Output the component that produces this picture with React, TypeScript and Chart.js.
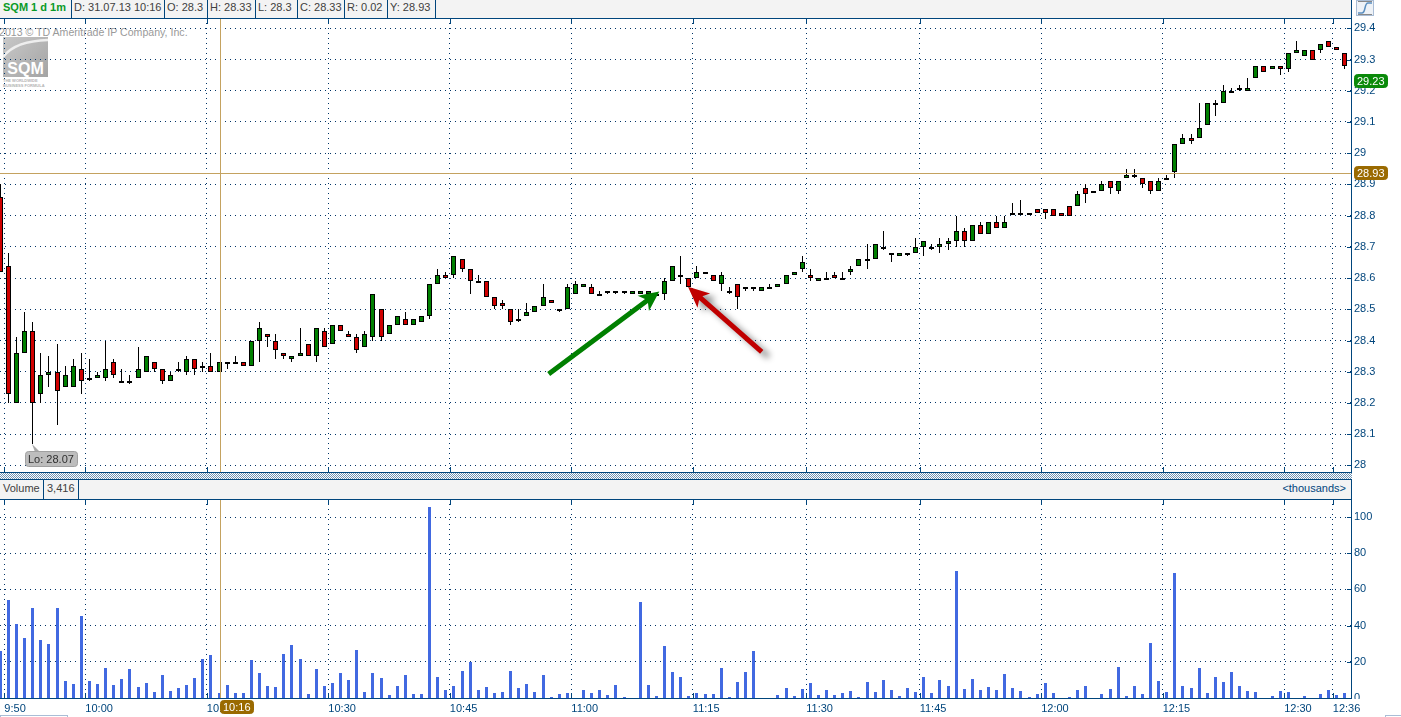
import React, { useEffect, useRef } from "react";
import { Chart, registerables } from "chart.js";

Chart.register(...registerables);

const opens = [28.86,28.64,28.20,28.36,28.43,28.23,28.29,28.30,28.25,28.25,28.31,28.28,28.28,28.28,28.33,28.27,28.27,28.28,28.30,28.33,28.31,28.27,28.31,28.30,28.34,28.32,28.32,28.30,28.33,28.33,28.33,28.32,28.40,28.42,28.40,28.36,28.34,28.35,28.39,28.35,28.43,28.39,28.45,28.42,28.41,28.38,28.41,28.50,28.42,28.45,28.47,28.45,28.46,28.48,28.58,28.61,28.61,28.66,28.63,28.59,28.59,28.54,28.52,28.50,28.47,28.48,28.49,28.51,28.53,28.50,28.50,28.55,28.57,28.57,28.55,28.56,28.56,28.56,28.55,28.55,28.55,28.55,28.55,28.59,28.61,28.60,28.60,28.62,28.61,28.58,28.56,28.58,28.57,28.57,28.56,28.57,28.57,28.58,28.61,28.63,28.61,28.59,28.60,28.61,28.60,28.62,28.64,28.66,28.66,28.70,28.68,28.67,28.68,28.68,28.70,28.70,28.70,28.71,28.72,28.75,28.72,28.77,28.74,28.78,28.76,28.81,28.81,28.81,28.82,28.82,28.82,28.81,28.83,28.83,28.89,28.88,28.88,28.91,28.88,28.92,28.93,28.92,28.91,28.88,28.92,28.94,29.03,29.05,29.05,29.09,29.16,29.16,29.20,29.21,29.20,29.24,29.28,29.27,29.28,29.27,29.32,29.31,29.33,29.33,29.36,29.34,29.32];
const highs = [28.90,28.68,28.41,28.49,28.46,28.36,28.35,28.39,28.32,28.34,28.36,28.34,28.30,28.40,28.34,28.31,28.29,28.38,28.35,28.33,28.31,28.30,28.33,28.35,28.34,28.33,28.36,28.33,28.33,28.35,28.33,28.40,28.46,28.42,28.42,28.36,28.35,28.44,28.39,28.44,28.44,28.45,28.45,28.43,28.42,28.43,28.55,28.50,28.45,28.48,28.49,28.47,28.48,28.58,28.63,28.62,28.67,28.66,28.63,28.61,28.59,28.54,28.53,28.50,28.50,28.52,28.51,28.58,28.53,28.50,28.58,28.59,28.58,28.58,28.56,28.56,28.56,28.56,28.56,28.56,28.56,28.55,28.60,28.64,28.67,28.60,28.64,28.62,28.61,28.62,28.57,28.58,28.57,28.57,28.57,28.58,28.58,28.61,28.62,28.67,28.63,28.60,28.62,28.62,28.62,28.64,28.66,28.71,28.71,28.75,28.68,28.68,28.68,28.73,28.72,28.71,28.73,28.73,28.80,28.76,28.77,28.78,28.78,28.80,28.80,28.84,28.85,28.81,28.82,28.82,28.82,28.81,28.83,28.88,28.90,28.88,28.91,28.91,28.91,28.95,28.95,28.92,28.91,28.92,28.93,29.03,29.06,29.06,29.16,29.16,29.17,29.22,29.21,29.22,29.24,29.28,29.28,29.28,29.28,29.32,29.36,29.33,29.33,29.35,29.36,29.34,29.32];
const lows = [28.62,28.20,28.20,28.36,28.07,28.20,28.25,28.13,28.25,28.25,28.23,28.27,28.28,28.27,28.28,28.27,28.26,28.28,28.30,28.30,28.26,28.27,28.30,28.29,28.29,28.30,28.30,28.30,28.31,28.33,28.32,28.32,28.33,28.38,28.34,28.34,28.33,28.35,28.35,28.33,28.38,28.39,28.43,28.41,28.36,28.38,28.40,28.40,28.42,28.45,28.45,28.45,28.46,28.47,28.58,28.60,28.60,28.62,28.55,28.59,28.54,28.50,28.50,28.45,28.46,28.48,28.49,28.51,28.52,28.49,28.50,28.55,28.57,28.55,28.55,28.55,28.55,28.55,28.55,28.55,28.55,28.55,28.53,28.59,28.58,28.57,28.60,28.62,28.59,28.56,28.55,28.50,28.56,28.56,28.56,28.57,28.57,28.58,28.61,28.62,28.59,28.59,28.60,28.60,28.60,28.61,28.64,28.63,28.66,28.69,28.65,28.67,28.67,28.68,28.67,28.69,28.68,28.69,28.70,28.70,28.72,28.74,28.74,28.76,28.76,28.81,28.81,28.81,28.81,28.79,28.80,28.80,28.80,28.83,28.84,28.88,28.88,28.87,28.87,28.92,28.92,28.89,28.87,28.88,28.92,28.92,29.03,29.03,29.05,29.09,29.12,29.16,29.20,29.20,29.20,29.24,29.26,29.27,29.25,29.26,29.32,29.31,29.30,29.32,29.34,29.33,29.27];
const closes = [28.62,28.23,28.36,28.43,28.20,28.29,28.30,28.24,28.29,28.32,28.27,28.28,28.29,28.31,28.29,28.27,28.27,28.31,28.35,28.31,28.27,28.29,28.31,28.34,28.31,28.32,28.30,28.33,28.33,28.33,28.32,28.40,28.44,28.41,28.37,28.35,28.35,28.36,28.35,28.44,28.38,28.45,28.43,28.41,28.37,28.42,28.55,28.41,28.45,28.48,28.45,28.47,28.48,28.58,28.61,28.60,28.67,28.63,28.59,28.59,28.54,28.51,28.51,28.46,28.47,28.49,28.51,28.54,28.52,28.50,28.57,28.58,28.58,28.55,28.55,28.56,28.56,28.56,28.56,28.56,28.56,28.55,28.59,28.64,28.61,28.57,28.62,28.62,28.59,28.61,28.56,28.54,28.57,28.57,28.57,28.57,28.58,28.61,28.62,28.65,28.60,28.60,28.60,28.60,28.60,28.63,28.66,28.66,28.71,28.70,28.68,28.68,28.68,28.70,28.72,28.70,28.71,28.72,28.75,28.72,28.77,28.74,28.78,28.76,28.78,28.81,28.81,28.81,28.81,28.81,28.80,28.80,28.80,28.87,28.87,28.88,28.90,28.89,28.91,28.93,28.93,28.90,28.88,28.91,28.92,29.03,29.05,29.04,29.08,29.16,29.16,29.20,29.20,29.21,29.21,29.28,29.26,29.28,29.27,29.32,29.33,29.33,29.30,29.35,29.34,29.33,29.28];
const volumes = [26,54.3,41,33.3,50,32,30,50,9.6,8,45.5,9.6,8,16.8,7.4,10.7,16.2,6.3,8.5,3.5,12.9,4,5.7,7.4,11.2,21.7,24,3,7.4,3,3,21.2,14,6.8,6.3,24.5,29.5,21.7,2.4,16.2,6.8,8.5,14,10,26.7,3.5,14,11.2,1.8,6.8,12.9,2.4,2.4,105.7,11.8,4.6,6.8,15,20,4.4,6.1,2.8,3.3,15,5.6,7.8,3.3,12.8,0.6,2.2,2.8,0,4.4,2.8,4.4,1.7,7.2,0.6,0,53.3,7.2,1.1,28.9,14.4,11.7,1.1,2.8,2.2,2.2,16.7,0.6,8.9,14.4,26,0,0,1.7,5.6,1.1,5,8.3,1.7,4.4,1.7,2.8,3.9,0.6,8.9,3.3,10,4.4,1.1,5.6,3.3,11.7,3,10,6.8,70,5.2,10.7,4.6,6.3,4.6,13.4,5.7,4,0.7,2.4,8.5,3,0,0.7,4.6,6.8,0,2.4,5.2,17.3,1.3,6.8,2.4,30.6,9.6,3.5,69.2,6.8,5.7,16.8,3,11.8,9,14.5,6.8,4,3.5,0,1.3,4,3.5,0,1.3,0,2.4,4.6,1.8,3];

const timeTickIndexes = [1, 11, 26, 41, 56, 71, 86, 100, 114, 129, 144, 159, 165];
const timeLabels = ["9:50","10:00","10:15","10:30","10:45","11:00","11:15","11:30","11:45","12:00","12:15","12:30","12:36"];
const priceTicks = [28,28.1,28.2,28.3,28.4,28.5,28.6,28.7,28.8,28.9,29,29.1,29.2,29.3,29.4];
const volumeTicks = [0,20,40,60,80,100];
const headerCells = [
  { text: "D: 31.07.13 10:16", end: 164 },
  { text: "O: 28.3", end: 207 },
  { text: "H: 28.33", end: 255 },
  { text: "L: 28.3", end: 297 },
  { text: "C: 28.33", end: 344 },
  { text: "R: 0.02", end: 387 },
  { text: "Y: 28.93", end: 435 },
];

const cursorIndex = 27.1;
const cursorPrice = 28.935;
const lastPrice = 29.23;
const lowIndex = 4;
const lowPrice = 28.07;
const greenArrow = { from: [67.7, 28.293], to: [81.36, 28.557] };
const redArrow = { from: [94.0, 28.364], to: [84.9, 28.572] };

const BLUE = "#00457c";
const DOT = "#003366";
const TAN = "#c4a260";
const BROWN = "#9a6a00";
const FONT = "'Liberation Sans', Arial, sans-serif";
const xMin = -0.037;
const xMax = 166.75;
const gridValues = timeTickIndexes.map((i) => i - 0.5);

const xBase = (showLabels: boolean) => ({
  type: "linear",
  position: "bottom",
  offset: false,
  min: xMin,
  max: xMax,
  bounds: "data",
  afterFit: (s: any) => { s.height = showLabels ? 19 : 0; s.paddingLeft = 0; s.paddingRight = 0; },
  afterBuildTicks: (s: any) => { s.ticks = gridValues.map((value) => ({ value })); },
  grid: { offset: false, color: DOT, drawTicks: false, lineWidth: 1 },
  border: { display: showLabels, color: BLUE, dash: [1, 4], width: 1 },
  ticks: {
    display: showLabels,
    autoSkip: false,
    maxRotation: 0,
    minRotation: 0,
    align: "start",
    padding: 4,
    color: BLUE,
    font: { family: FONT, size: 11 },
    callback: (_v: any, i: number) => timeLabels[i],
  },
});

const yBase = (min: number, max: number, values: number[]) => ({
  type: "linear",
  position: "right",
  min,
  max,
  bounds: "data",
  afterFit: (s: any) => { s.width = 50; s.paddingTop = 0; s.paddingBottom = 0; },
  afterBuildTicks: (s: any) => { s.ticks = values.map((value) => ({ value })); },
  grid: { color: DOT, drawTicks: false, lineWidth: 1 },
  border: { display: true, color: BLUE, dash: [1, 4], width: 1 },
  ticks: {
    padding: 3,
    color: BLUE,
    font: { family: FONT, size: 11 },
    autoSkip: false,
    callback: (v: any) => String(v),
  },
});

const snapPlugin = {
  id: "snap",
  afterDatasetsUpdate(chart: any) {
    chart.data.datasets.forEach((ds: any, d: number) => {
      chart.getDatasetMeta(d).data.forEach((el: any) => {
        el.x = Math.floor(el.x) + 0.5;
        el.y = Math.round(el.y);
        el.base = Math.round(el.base);
        if (ds.label === "Body" && Math.abs(el.base - el.y) < 2) el.base = el.y + 2;
      });
    });
  },
};

const paneMarks = {
  id: "paneMarks",
  afterDatasetsDraw(chart: any) {
    const { ctx, chartArea: a, scales } = chart;
    ctx.save();
    ctx.fillStyle = BLUE;
    gridValues.forEach((v) => {
      const x = Math.round(scales.x.getPixelForValue(v));
      ctx.fillRect(x, a.top, 1, 6);
      ctx.fillRect(x, a.bottom - 5, 1, 5);
    });
    scales.y.ticks.forEach((t: any) => {
      const y = Math.round(scales.y.getPixelForValue(t.value));
      ctx.fillRect(a.right - 4, y, 4, 1);
    });
    ctx.fillStyle = TAN;
    ctx.fillRect(Math.round(scales.x.getPixelForValue(cursorIndex)), a.top, 1, a.bottom - a.top);
    ctx.restore();
  },
};

function badge(ctx: any, x: number, y: number, w: number, h: number, fill: string, stroke: string, text: string, color: string) {
  ctx.beginPath();
  ctx.roundRect(x + 0.5, y + 0.5, w - 1, h - 1, 3);
  ctx.fillStyle = fill;
  ctx.fill();
  ctx.strokeStyle = stroke;
  ctx.lineWidth = 1;
  ctx.stroke();
  ctx.fillStyle = color;
  ctx.font = `11px ${FONT}`;
  ctx.textAlign = "left";
  ctx.textBaseline = "middle";
  ctx.fillText(text, x + 3, y + h / 2 + 0.5);
}

function arrow(ctx: any, chart: any, spec: any, color: string, back: number, half: number) {
  const { x: sx, y: sy } = chart.scales;
  const tail = [sx.getPixelForValue(spec.from[0]), sy.getPixelForValue(spec.from[1])];
  const tip = [sx.getPixelForValue(spec.to[0]), sy.getPixelForValue(spec.to[1])];
  const len = Math.hypot(tip[0] - tail[0], tip[1] - tail[1]);
  const ux = (tip[0] - tail[0]) / len;
  const uy = (tip[1] - tail[1]) / len;
  const nx = -uy;
  const ny = ux;
  const at = (along: number, side: number) => [tip[0] - ux * along + nx * side, tip[1] - uy * along + ny * side];
  const pts = [at(0, 0), at(back, half), at(back - 4, 2.5), at(len, 2.5), at(len, -2.5), at(back - 4, -2.5), at(back, -half)];
  ctx.beginPath();
  pts.forEach((p, i) => (i ? ctx.lineTo(p[0], p[1]) : ctx.moveTo(p[0], p[1])));
  ctx.closePath();
  ctx.fillStyle = color;
  ctx.fill();
}

const priceOverlay = {
  id: "priceOverlay",
  afterDraw(chart: any) {
    const { ctx, chartArea: a, scales } = chart;
    ctx.save();
    const yc = Math.round(scales.y.getPixelForValue(cursorPrice));
    ctx.fillStyle = TAN;
    ctx.fillRect(0, yc, a.right, 1);

    ctx.save();
    ctx.shadowColor = "rgba(0,0,0,0.45)";
    ctx.shadowBlur = 6;
    ctx.shadowOffsetX = 7;
    ctx.shadowOffsetY = 5;
    arrow(ctx, chart, redArrow, "#c00000", 21, 9.5);
    ctx.restore();
    arrow(ctx, chart, greenArrow, "#008000", 20, 9.5);

    const lx = Math.floor(scales.x.getPixelForValue(lowIndex));
    const ly = Math.round(scales.y.getPixelForValue(lowPrice));
    ctx.beginPath();
    ctx.moveTo(lx, ly);
    ctx.lineTo(lx + 3, ly + 8);
    ctx.lineTo(lx + 8, ly + 8);
    ctx.closePath();
    ctx.fillStyle = "#a8a8a8";
    ctx.fill();
    badge(ctx, 25, 451, 53, 16, "#bdbdbd", "#a0a0a0", "Lo: 28.07", "#303030");

    const yl = Math.round(scales.y.getPixelForValue(lastPrice));
    badge(ctx, 1354, yl - 7, 34, 14, "#0a8a0a", "#0a8a0a", lastPrice.toFixed(2), "#ffffff");
    badge(ctx, 1354, yc - 7, 34, 14, BROWN, BROWN, "28.93", "#ffffff");
    ctx.restore();
  },
};

const volumeOverlay = {
  id: "volumeOverlay",
  afterDraw(chart: any) {
    const { ctx, scales } = chart;
    ctx.save();
    const x = Math.round(scales.x.getPixelForValue(cursorIndex));
    badge(ctx, x, 201, 34, 14, BROWN, BROWN, "10:16", "#ffffff");
    ctx.restore();
  },
};

function useChart(ref: any, make: () => any) {
  useEffect(() => {
    const chart = new Chart(ref.current, make());
    return () => chart.destroy();
  }, []);
}

const abs = (left: number, top: number, width: number, height: number, extra: any = {}) => ({
  position: "absolute" as const, left, top, width, height, boxSizing: "border-box" as const, ...extra,
});

export default function App() {
  const priceRef = useRef<HTMLCanvasElement>(null);
  const volumeRef = useRef<HTMLCanvasElement>(null);

  useChart(priceRef, () => ({
    type: "bar",
    plugins: [snapPlugin, paneMarks, priceOverlay],
    data: {
      datasets: [
        {
          label: "Body",
          grouped: false,
          barThickness: 5,
          borderWidth: 1,
          borderColor: "#000000",
          borderSkipped: false,
          inflateAmount: 0,
          backgroundColor: opens.map((o, i) => (closes[i] < o ? "#d00000" : "#008000")),
          data: opens.map((o, i) => ({ x: i, y: [o, closes[i]] })),
        },
        {
          label: "Wick",
          grouped: false,
          barThickness: 1,
          borderWidth: 0,
          borderSkipped: false,
          inflateAmount: 0,
          backgroundColor: "#000000",
          data: lows.map((l, i) => ({ x: i, y: [l, highs[i]] })),
        },
      ],
    },
    options: {
      animation: false,
      responsive: false,
      devicePixelRatio: 1,
      layout: { padding: { top: 18, left: 0, right: 0, bottom: 0 } },
      plugins: { legend: { display: false }, tooltip: { enabled: false } },
      scales: { x: xBase(false), y: yBase(27.979, 29.433, priceTicks) },
    },
  }));

  useChart(volumeRef, () => ({
    type: "bar",
    plugins: [snapPlugin, paneMarks, volumeOverlay],
    data: {
      datasets: [
        {
          label: "Volume",
          barThickness: 3,
          inflateAmount: 0,
          backgroundColor: "#4169e1",
          data: volumes.map((v, i) => ({ x: i, y: v })),
        },
      ],
    },
    options: {
      animation: false,
      responsive: false,
      devicePixelRatio: 1,
      layout: { padding: 0 },
      plugins: { legend: { display: false }, tooltip: { enabled: false } },
      scales: { x: xBase(true), y: yBase(0, 110, volumeTicks) },
    },
  }));

  const textStyle = { font: `11px ${FONT}`, color: "#404040", lineHeight: "18px", whiteSpace: "nowrap" as const };
  const starts = [71, ...headerCells.map((c) => c.end)];

  return (
    <div style={{ position: "fixed", left: 0, top: 0, width: 1401, height: 717, background: "#fff", overflow: "hidden" }}>
      {/* watermark under the canvas */}
      <div style={{ ...abs(0, 26, 220, 13), font: `10.6px ${FONT}`, color: "#9a9a9a", lineHeight: "13px", whiteSpace: "nowrap", textIndent: -1 }}>
        2013 © TD Ameritrade IP Company, Inc.
      </div>
      <div style={{ ...abs(3, 37, 45, 40), background: "linear-gradient(135deg,#c8c8c8,#a4a4a4)", color: "#fff", font: `bold 16px ${FONT}`, textAlign: "center", paddingTop: 23, lineHeight: "17px", overflow: "hidden" }}>
        <svg width="45" height="22" style={{ position: "absolute", left: 0, top: 0 }}>
          <path d="M0 20 Q12 4 45 3" stroke="#eeeeee" strokeWidth="2.5" fill="none" />
        </svg>
        SQM
      </div>
      <div style={{ ...abs(3, 78, 48, 10), font: `bold 4px ${FONT}`, color: "#b4b4b4", lineHeight: "5px", whiteSpace: "nowrap" }}>
        THE WORLDWIDE<br />BUSINESS FORMULA
      </div>

      <canvas ref={priceRef} width={1401} height={472} style={{ position: "absolute", left: 0, top: 0 }} />
      <canvas ref={volumeRef} width={1401} height={218} style={{ position: "absolute", left: 0, top: 499 }} />

      {/* header strip */}
      <div style={{ ...abs(0, 0, 1352, 19), background: "#f3f3f3", borderBottom: `1px solid ${BLUE}`, borderRight: `1px solid ${BLUE}` }} />
      <div style={{ ...abs(3, 0, 68, 18), font: `bold 11px ${FONT}`, color: "#0a9a28", lineHeight: "15px", whiteSpace: "nowrap" }}>SQM 1 d 1m</div>
      {headerCells.map((c, i) => (
        <div key={c.text} style={{ ...abs(starts[i], 0, c.end - starts[i] + 1, 18), ...textStyle, borderLeft: `1px solid ${BLUE}`, borderRight: `1px solid ${BLUE}`, paddingLeft: 2, lineHeight: "15px" }}>
          {c.text}
        </div>
      ))}
      <div style={abs(1356, 0, 18, 16, { border: "1px solid #a9bdd6", background: "#eef2f7" })}>
        <svg width="16" height="14" style={{ display: "block" }}>
          <path d="M1 12 H5 C9 12 7 2 11 2 H15" stroke="#5b8fc0" strokeWidth="1.5" fill="none" />
          <path d="M1 13.5 H15 M1 0.5 H15" stroke="#888" strokeWidth="1" />
        </svg>
      </div>

      {/* splitter and volume strip */}
      <div style={abs(0, 472, 1352, 1, { background: BLUE })} />
      <div style={abs(0, 473, 1352, 6, { backgroundImage: "repeating-conic-gradient(#6f93b3 0 25%, #ffffff 0 50%)", backgroundSize: "2px 2px" })} />
      <div style={{ ...abs(0, 479, 1352, 21), background: "#f3f3f3", borderTop: `1px solid ${BLUE}`, borderBottom: `1px solid ${BLUE}`, borderRight: `1px solid ${BLUE}` }} />
      <div style={{ ...abs(3, 480, 40, 18), ...textStyle, lineHeight: "17px" }}>Volume</div>
      <div style={{ ...abs(43, 479, 36, 21), ...textStyle, borderLeft: `1px solid ${BLUE}`, borderRight: `1px solid ${BLUE}`, paddingLeft: 3, lineHeight: "18px" }}>3,416</div>
      <div style={{ ...abs(1270, 480, 76, 18), ...textStyle, color: BLUE, textAlign: "right", lineHeight: "17px" }}>&lt;thousands&gt;</div>

      {/* hides the lower part of the volume zero label */}
      <div style={abs(1352, 699, 12, 4, { background: "#fff" })} />
      <div style={abs(1385, 715, 20, 6, { border: "1px solid #a9bdd6", background: "#fff" })} />
      <div style={abs(0, 715, 68, 6, { border: "1px solid #a9bdd6", background: "#fff" })} />
    </div>
  );
}
